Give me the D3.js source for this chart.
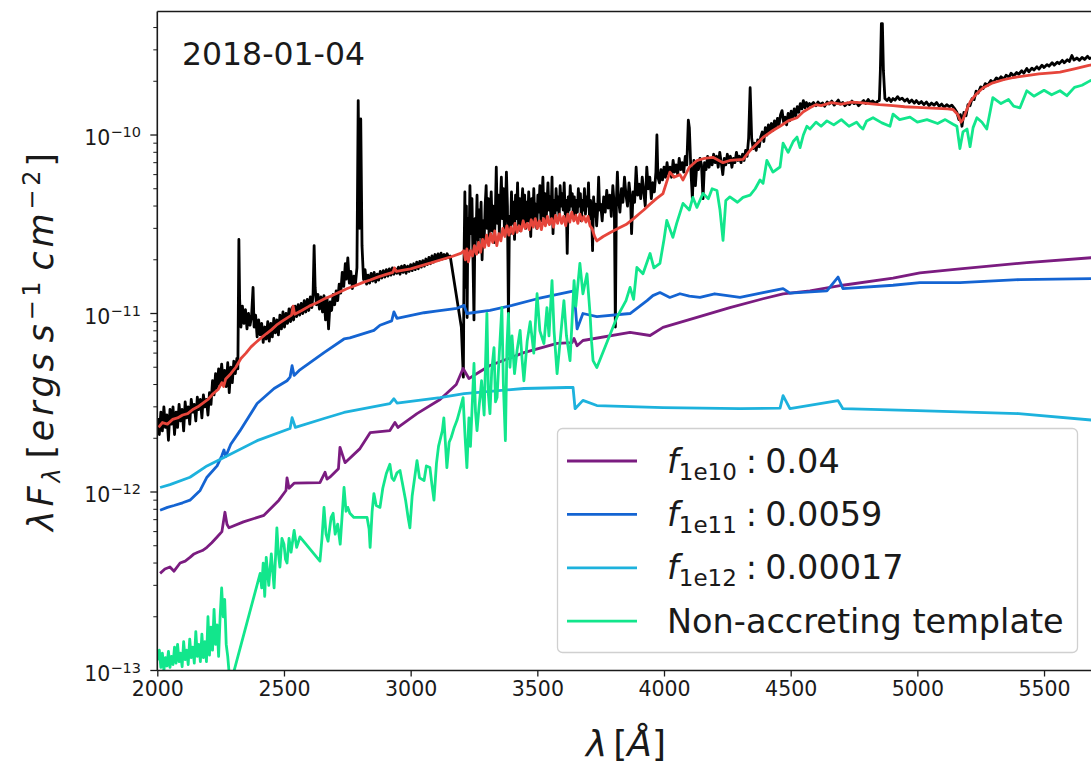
<!DOCTYPE html>
<html>
<head>
<meta charset="utf-8">
<script src="https://cdn.jsdelivr.net/npm/d3@7"></script>
<style>
  html, body { margin: 0; padding: 0; background: #fff; }
  svg { display: block; font-family: "DejaVu Sans", sans-serif; }
</style>
</head>
<body>
<svg id="chart" width="1091" height="765"></svg>
<script>
// flux values are in units of 1e-12 erg s^-1 cm^-2, wavelengths in Angstrom
const FLUX_UNIT = 1e-12;

const epochLabel = "2018-01-04";
const xTicks = [2000, 2500, 3000, 3500, 4000, 4500, 5000, 5500];
const yMajor = [-13, -12, -11, -10];

const legendNames = ["1e10", "1e11", "1e12", "Non-accreting template"];
const legendValues = ["0.04", "0.0059", "0.00017", null];

// observed spectrum (black)
const observed = [
  [2002,2.6],[2008,2.1],[2014,2.8],[2020,2.2],[2026,3.0],[2032,2.3],[2038,2.7],[2044,1.95],[2050,2.9],[2056,2.4],
  [2062,3.0],[2068,2.1],[2074,2.8],[2080,2.3],[2086,3.1],[2092,2.5],[2098,2.9],[2104,2.2],[2110,3.2],[2116,2.6],
  [2122,3.0],[2128,2.4],[2134,3.3],[2140,2.8],[2146,3.1],[2152,2.5],[2158,3.4],[2164,2.9],[2170,3.3],[2176,2.6],
  [2182,3.5],[2188,3.0],[2194,3.3],[2200,2.7],[2206,3.6],[2212,3.1],[2218,4.2],[2224,3.5],[2230,4.6],[2236,3.8],
  [2242,4.9],[2248,4.0],[2254,5.2],[2260,4.2],[2266,4.8],[2272,3.9],[2278,5.3],[2284,3.6],[2290,5.0],[2296,4.1],
  [2302,5.4],[2308,4.6],[2314,5.6],[2318,4.9],[2322,26],[2325,12],[2330,8.4],[2336,11],[2342,8.8],[2348,10.5],
  [2354,8.2],[2360,10],[2366,8.6],[2372,9.6],[2378,14],[2382,8.4],[2388,9.8],[2394,7.4],[2400,9.2],[2406,7.6],
  [2412,8.8],[2418,6.9],[2424,8.4],[2430,7.2],[2436,9.0],[2442,7.0],[2448,8.8],[2454,7.4],[2460,9.4],[2466,7.8],
  [2472,9.2],[2478,7.6],[2484,9.8],[2490,8.2],[2496,10.2],[2502,8.4],[2508,10.0],[2514,8.8],[2520,10.6],[2526,9.0],
  [2532,10.8],[2538,9.2],[2544,11.0],[2550,9.6],[2556,11.2],[2562,9.8],[2568,11.4],[2574,10.0],[2580,11.8],[2586,10.2],
  [2592,12.0],[2598,10.4],[2604,12.4],[2610,10.8],[2615,13],[2619,24],[2623,14],[2628,11.2],[2634,12.8],[2640,10.6],
  [2646,12.4],[2652,10.2],[2658,12.6],[2664,9.2],[2670,12.2],[2676,8.2],[2682,11.6],[2688,10.4],[2694,12.8],[2700,11.2],
  [2706,13.4],[2712,11.8],[2718,14.6],[2724,13.0],[2730,17],[2736,14.2],[2742,19],[2746,15.6],[2752,20.5],[2758,14.8],
  [2764,17.2],[2770,13.8],[2776,16.2],[2782,14.6],[2788,18],[2793,156],[2798,30],[2803,123],[2808,24],[2814,15.5],
  [2820,17.6],[2826,14.6],[2832,16.4],[2838,14.8],[2844,16.8],[2850,15.2],[2856,17.0],[2862,15.0],[2868,16.6],[2874,15.4],
  [2880,17.2],[2886,15.8],[2892,17.4],[2898,16.0],[2904,17.6],[2910,16.2],[2916,17.8],[2922,16.4],[2928,18.0],[2934,16.6],
  [2940,17.8],[2946,16.8],[2952,18.2],[2958,16.6],[2964,18.4],[2970,17.0],[2976,18.6],[2982,16.8],[2988,18.4],[2994,17.2],
  [3000,18.8],[3006,17.4],[3012,19.0],[3018,17.6],[3024,19.4],[3030,17.8],[3036,19.6],[3042,18.2],[3048,19.8],[3054,18.4],
  [3060,20.2],[3066,18.8],[3072,20.6],[3078,19.0],[3084,21.0],[3090,19.4],[3096,21.4],[3102,19.8],[3108,21.6],[3114,20.0],
  [3120,21.8],[3126,20.2],[3132,21.4],[3138,20.4],[3144,21.6],[3150,20.6],[3156,21.0],
  [3200,8.4],[3208,4.4],[3211,22],[3214,48],[3217,14],[3220,40],[3223,9.5],[3226,34],[3230,22],[3234,52],
  [3238,28],[3242,44],[3246,20],[3250,9.2],[3254,34],[3258,26],[3262,46],[3266,22],[3270,38],[3274,27],
  [3278,42],[3282,20],[3286,33],[3290,25],[3294,40],[3298,52],[3302,30],[3306,44],[3310,26],[3314,36],
  [3318,48],[3322,29],[3326,40],[3330,25],[3334,35],[3338,66],[3342,32],[3346,46],[3350,28],[3354,42],
  [3358,58],[3362,34],[3366,50],[3370,30],[3374,38],[3378,62],[3382,40],[3386,9.2],[3390,35],[3394,28],
  [3398,48],[3402,32],[3406,42],[3410,26],[3414,46],[3418,34],[3422,54],[3426,31],[3430,44],[3434,29],
  [3438,40],[3442,50],[3446,34],[3450,46],[3454,30],[3458,42],[3462,33],[3466,48],[3470,36],[3474,27],
  [3478,44],[3482,32],[3486,50],[3490,34],[3494,41],[3498,30],[3502,46],[3506,37],[3510,52],[3514,33],
  [3518,43],[3522,58],[3526,35],[3530,47],[3534,32],[3538,41],[3542,54],[3546,38],[3550,45],[3554,34],
  [3558,58],[3562,28],[3566,43],[3570,36],[3574,50],[3578,38],[3582,45],[3586,34],[3590,52],[3594,40],
  [3598,47],[3602,38],[3606,54],[3610,36],[3614,43],[3618,21.7],[3622,45],[3626,38],[3630,52],[3634,40],
  [3638,47],[3642,36],[3646,45],[3650,34],[3654,43],[3658,37],[3662,50],[3666,40],[3670,47],[3674,33],
  [3678,43],[3682,38],[3686,50],[3690,36],[3694,45],[3698,40],[3702,54],[3706,34],[3710,43],[3714,38],
  [3718,22.5],[3722,45],[3726,35],[3730,41],[3734,31],[3738,38],[3742,58],[3746,38],[3750,41],[3756,33],
  [3762,45],[3768,37],[3774,49],[3780,39],[3786,46],[3792,35],[3798,52],[3804,40],[3808,8.4],[3812,42],
  [3816,62],[3820,44],[3826,37],[3832,50],[3838,42],[3844,58],[3850,46],[3856,40],[3862,54],[3868,44],
  [3872,28],[3878,48],[3884,42],[3890,66],[3896,46],[3902,53],[3908,44],[3914,58],[3920,48],[3926,40],
  [3932,66],[3938,50],[3944,58],[3950,44],[3956,54],[3962,48],[3968,62],[3972,100],[3976,58],[3982,54],
  [3988,64],[3994,56],[4000,66],[4006,58],[4012,70],[4018,60],[4024,66],[4030,58],[4036,72],[4042,62],
  [4048,68],[4054,60],[4060,74],[4066,64],[4072,70],[4078,62],[4084,76],[4090,68],[4096,121],[4100,110],
  [4106,64],[4112,44],[4118,72],[4124,52],[4130,70],[4136,64],[4142,74],[4148,68],[4154,44],[4160,70],
  [4166,64],[4172,76],[4178,66],[4184,74],[4190,68],[4196,78],[4202,70],[4208,76],[4214,66],[4220,80],
  [4226,70],[4232,60],[4238,74],[4244,68],[4250,78],[4256,70],[4262,76],[4268,66],[4274,74],[4280,70],
  [4286,80],[4292,72],[4298,76],[4304,70],[4310,78],[4316,72],[4322,82],[4328,76],[4334,96],[4340,184],
  [4346,96],[4352,84],[4358,90],[4364,82],[4370,94],[4376,86],[4382,98],[4388,104],[4394,92],[4400,110],
  [4406,100],[4412,114],[4418,104],[4424,116],[4430,106],[4436,120],[4442,110],[4448,124],[4454,114],[4460,130],
  [4466,137],[4472,118],[4478,126],[4484,114],[4490,132],[4496,120],[4502,136],[4508,124],[4514,140],[4520,128],
  [4526,144],[4532,134],[4538,150],[4544,140],[4550,156],[4556,142],[4562,152],[4568,144],[4574,150],[4580,147],
  [4590,152],[4600,146],[4608,153],[4616,148],[4626,151],[4634,145],[4644,153],[4652,149],[4662,155],[4672,147],
  [4680,152],[4688,157],[4696,149],[4706,152],[4714,146],[4724,151],[4732,148],[4742,155],[4750,150],[4760,152],
  [4768,146],[4778,151],[4788,156],[4796,150],[4806,158],[4814,152],[4824,155],[4834,150],[4842,154],[4850,156],
  [4854,230],[4858,421],[4862,421],[4866,230],[4872,160],[4880,156],[4888,161],[4896,154],[4904,160],[4912,157],
  [4922,164],[4930,158],[4940,161],[4950,155],[4960,159],[4968,152],[4978,157],[4988,151],[4996,156],[5006,150],
  [5016,154],[5026,148],[5036,153],[5046,146],[5056,151],[5066,147],[5076,152],[5086,145],[5096,149],[5106,143],
  [5116,148],[5126,144],[5136,147],[5146,141],[5156,134],[5164,122],[5170,130],[5176,112],[5184,134],[5192,128],
  [5200,148],[5208,146],[5216,160],[5224,158],[5232,176],[5240,172],[5250,186],[5260,182],[5268,194],[5278,190],
  [5290,202],[5300,197],[5312,209],[5322,204],[5330,212],[5342,206],[5350,216],[5362,211],[5370,222],[5380,214],
  [5392,224],[5400,219],[5412,229],[5420,222],[5432,236],[5440,226],[5452,237],[5460,231],[5472,241],[5480,234],
  [5492,246],[5500,239],[5512,248],[5520,243],[5532,254],[5540,246],[5552,256],[5560,251],[5572,262],[5580,254],
  [5592,264],[5600,258],[5610,279],[5618,263],[5630,270],[5640,262],[5650,272],[5660,265],[5672,276],[5680,268],
  [5690,272]
];

// best-fit total model (red)
const totalModel = [
  [2005,2.3],[2020,2.45],[2040,2.4],[2060,2.55],[2080,2.6],[2100,2.7],[2120,2.75],[2140,2.9],[2160,3.0],[2180,3.15],
  [2200,3.3],[2220,3.55],[2240,3.75],[2255,4.1],[2262,3.9],[2270,4.3],[2290,4.6],[2310,5.0],[2330,5.6],[2350,6.0],
  [2370,6.5],[2390,6.9],[2410,7.3],[2430,7.7],[2450,8.1],[2470,8.6],[2490,9.0],[2510,9.4],[2530,9.8],[2536,11],
  [2542,9.9],[2570,10.4],[2600,11],[2630,11.5],[2660,12.1],[2690,12.6],[2720,13.2],[2750,13.8],[2780,14.3],[2810,14.9],
  [2840,15.4],[2870,16.0],[2900,16.5],[2930,17.0],[2936,18.0],[2944,17.2],[3000,17.8],[3040,18.5],[3080,19.2],[3120,20.0],
  [3160,20.8],[3200,21.8],[3210,22.5],[3216,20],[3222,23],[3228,19.5],[3236,22.5],[3244,21],[3252,24],[3260,21.5],
  [3268,25],[3276,22],[3284,26],[3292,23.5],[3300,27.5],[3308,24],[3316,28],[3324,25],[3332,29],[3340,24],
  [3348,28],[3356,25.5],[3364,30],[3372,27],[3380,31],[3388,27.5],[3396,30.5],[3404,28],[3412,32],[3420,28.5],
  [3428,31],[3436,29],[3444,33],[3452,30],[3460,32],[3468,29.5],[3476,33.5],[3484,30.5],[3492,34],[3500,30],
  [3508,33],[3516,29.5],[3524,34],[3532,31],[3540,35],[3548,31.5],[3556,34],[3564,30.5],[3572,35.5],[3580,32],
  [3588,36],[3596,32],[3604,35],[3612,31],[3620,36],[3628,32.5],[3636,37],[3644,33],[3652,35.5],[3660,32],
  [3668,36],[3676,33],[3684,35],[3692,32.5],[3700,35],[3708,31],[3716,30],[3726,27],[3735,25.5],[3760,27],
  [3790,28.5],[3820,30],[3850,31.5],[3880,34],[3900,36],[3920,38],[3945,41],[3970,44],[3996,47],[4023,62],
  [4040,58],[4063,60],[4075,56],[4100,66],[4130,72],[4160,74],[4193,75],[4233,70],[4260,72],[4312,73],
  [4340,82],[4391,97],[4430,106],[4458,112],[4490,120],[4525,125],[4550,135],[4576,142],[4600,148],[4620,146],
  [4660,152],[4700,149],[4740,153],[4773,152],[4810,150],[4850,148],[4904,146],[4950,144],[5000,143],[5038,142],
  [5080,141],[5120,140],[5141,139],[5160,130],[5172,118],[5180,122],[5196,140],[5210,155],[5235,171],[5260,184],
  [5298,196],[5340,204],[5380,210],[5432,215],[5480,220],[5530,223],[5563,225],[5620,235],[5681,246],[5700,250]
];

// slab model f_1e10 (purple)
const slab1e10 = [
  [2011,0.35],[2030,0.37],[2050,0.38],[2066,0.36],[2090,0.40],[2110,0.41],[2129,0.43],[2145,0.45],[2160,0.46],[2178,0.47],
  [2196,0.49],[2215,0.52],[2236,0.56],[2255,0.60],[2267,0.77],[2275,0.66],[2283,0.63],[2340,0.68],[2421,0.74],[2480,0.90],
  [2508,1.02],[2512,1.20],[2520,1.05],[2540,1.12],[2642,1.13],[2662,1.29],[2670,1.18],[2681,1.21],[2715,1.35],[2721,1.78],
  [2741,1.46],[2800,1.75],[2840,2.15],[2918,2.21],[2938,2.45],[2950,2.30],[3025,2.75],[3116,3.30],[3180,4.0],[3207,4.92],
  [3230,4.32],[3260,4.6],[3313,5.11],[3447,6.04],[3578,6.8],[3637,6.87],[3645,7.25],[3657,6.6],[3680,7.06],[3866,7.83],
  [3945,7.53],[3996,8.36],[4130,9.51],[4260,10.8],[4391,12.1],[4470,12.9],[4576,13.4],[4706,14.4],[4904,15.8],[5010,16.9],
  [5168,17.8],[5432,19.3],[5700,20.6]
];

// slab model f_1e11 (blue)
const slab1e11 = [
  [2011,0.79],[2040,0.82],[2066,0.84],[2100,0.87],[2129,0.90],[2169,1.02],[2196,1.21],[2236,1.40],[2255,1.60],[2263,1.72],
  [2270,1.58],[2290,1.85],[2326,2.20],[2394,3.13],[2461,3.80],[2512,4.20],[2524,4.4],[2532,5.1],[2540,4.5],[2560,4.8],
  [2658,6.04],[2737,7.2],[2760,7.3],[2855,8.04],[2879,8.6],[2925,9.1],[2934,10.2],[2946,9.4],[3053,10.1],[3100,10.3],
  [3183,10.7],[3211,11.1],[3222,10.0],[3313,10.4],[3400,11.1],[3500,12.1],[3645,13.4],[3657,8.2],[3680,10.0],[3735,9.6],
  [3866,10.0],[3933,11.8],[3956,12.6],[3984,13.1],[4023,12.3],[4063,12.9],[4100,12.5],[4142,12.3],[4200,12.9],[4300,12.3],
  [4391,13.1],[4470,13.8],[4497,13.0],[4643,13.4],[4687,16.0],[4706,13.8],[4904,14.4],[5010,14.9],[5168,14.9],[5405,15.5],
  [5700,15.7]
];

// slab model f_1e12 (cyan)
const slab1e12 = [
  [2011,1.06],[2050,1.10],[2129,1.21],[2196,1.40],[2263,1.56],[2394,1.94],[2524,2.27],[2532,2.61],[2545,2.30],[2658,2.58],
  [2737,2.79],[2918,3.13],[2934,3.33],[2946,3.15],[3116,3.38],[3211,3.56],[3447,3.80],[3617,3.85],[3641,3.85],[3649,2.93],
  [3680,3.26],[3735,3.05],[3996,2.97],[4300,2.93],[4458,2.95],[4470,3.47],[4497,2.93],[4687,3.25],[4706,2.93],[5000,2.86],
  [5400,2.75],[5700,2.52]
];

// non-accreting photospheric template (green)
const template = [
  [2000,0.114],[2008,0.13],[2014,0.104],[2020,0.125],[2026,0.10],[2032,0.118],[2038,0.106],[2044,0.128],[2050,0.104],[2056,0.12],
  [2062,0.108],[2068,0.135],[2074,0.11],[2080,0.14],[2086,0.112],[2092,0.125],[2098,0.105],[2104,0.145],[2110,0.115],[2116,0.13],
  [2122,0.108],[2128,0.15],[2134,0.118],[2140,0.135],[2146,0.11],[2152,0.165],[2158,0.12],[2164,0.14],[2170,0.112],[2176,0.16],
  [2182,0.118],[2188,0.145],[2194,0.112],[2200,0.2],[2206,0.122],[2212,0.175],[2218,0.13],[2224,0.22],[2230,0.14],[2236,0.18],
  [2242,0.12],[2248,0.2],[2254,0.29],[2260,0.2],[2266,0.25],[2272,0.14],[2278,0.12],[2284,0.095],[2290,0.085],
  [2406,0.35],[2412,0.29],[2418,0.40],[2424,0.26],[2430,0.43],[2440,0.30],[2450,0.45],[2461,0.29],[2472,0.63],[2478,0.45],
  [2484,0.38],[2492,0.55],[2500,0.51],[2506,0.42],[2512,0.40],[2520,0.55],[2528,0.46],[2540,0.61],[2550,0.49],[2563,0.56],
  [2642,0.41],[2650,0.55],[2658,0.82],[2666,0.58],[2674,0.53],[2686,0.72],[2694,0.76],[2702,0.58],[2712,0.66],[2722,0.51],
  [2737,1.06],[2745,0.78],[2752,0.82],[2760,0.76],[2776,0.72],[2828,0.72],[2836,0.62],[2840,0.49],[2848,0.78],[2855,0.98],
  [2864,0.84],[2879,0.82],[2890,1.05],[2904,1.27],[2918,1.43],[2926,1.2],[2934,1.16],[2946,1.28],[2958,1.32],[2966,1.15],
  [2980,0.9],[2990,0.72],[2997,0.63],[3006,0.95],[3025,1.5],[3035,1.2],[3053,1.16],[3062,1.4],[3076,1.37],[3084,1.1],
  [3092,0.9],[3102,1.45],[3110,1.8],[3125,2.2],[3131,2.6],[3137,1.9],[3143,1.37],[3152,1.9],[3160,2.02],[3172,2.3],
  [3183,2.52],[3195,2.9],[3207,3.38],[3215,2.02],[3222,1.37],[3230,2.6],[3236,1.8],[3250,5.25],[3256,2.8],[3262,2.21],
  [3270,3.0],[3280,4.2],[3290,2.7],[3301,10],[3307,3.5],[3313,2.75],[3320,4.8],[3329,6.44],[3335,3.2],[3341,3.38],
  [3350,6.0],[3360,10.8],[3366,4.0],[3374,1.94],[3380,6.5],[3386,10],[3392,5.0],[3400,7.5],[3410,4.61],[3420,6.2],
  [3432,8.04],[3440,5.5],[3447,4.2],[3460,7.0],[3472,9.0],[3486,6.0],[3499,12.9],[3510,8.0],[3526,6.79],[3538,10.8],
  [3546,7.5],[3558,15.3],[3566,8.0],[3578,4.61],[3590,7.0],[3605,11.8],[3615,7.5],[3629,5.45],[3637,9.0],[3645,15.3],
  [3652,11],[3668,19.1],[3680,12.9],[3696,16.7],[3708,10],[3714,7.0],[3720,5.45],[3735,4.98],[3814,9.51],[3850,11.8],
  [3866,14],[3880,12],[3893,18.1],[3917,16.7],[3945,21.7],[3960,18],[3984,19.1],[4000,26],[4011,33.2],[4035,26.7],
  [4050,32],[4075,41.4],[4100,38],[4114,44.7],[4130,39.3],[4154,47.1],[4175,44],[4190,50],[4209,48.9],[4221,38],
  [4233,25.7],[4244,43],[4260,45],[4290,42],[4312,44.7],[4340,46],[4360,50],[4379,56],[4391,53.6],[4406,72],
  [4430,62],[4458,66.2],[4470,90],[4490,80],[4510,92],[4525,97.4],[4537,85],[4550,100],[4564,112],[4576,108],
  [4600,118],[4620,112],[4643,120],[4670,114],[4700,122],[4730,112],[4760,118],[4773,112],[4785,108],[4800,120],
  [4825,125],[4860,117],[4892,112],[4904,131],[4930,122],[4971,126],[5000,118],[5038,122],[5080,116],[5110,122],
  [5141,115],[5156,112],[5168,84],[5180,104],[5196,108],[5208,86],[5220,110],[5235,125],[5255,118],[5274,108],
  [5298,162],[5330,150],[5360,158],[5380,145],[5405,142],[5432,177],[5460,165],[5500,178],[5530,168],[5563,177],
  [5590,166],[5620,185],[5650,190],[5681,201],[5700,205]
];

const series = [
  { data: observed, color: "#000000" },
  { data: totalModel, color: "#e6453b" },
  { data: slab1e10, color: "#7b1c80" },
  { data: slab1e11, color: "#1464d2" },
  { data: slab1e12, color: "#1db2dd" },
  { data: template, color: "#12e68c" }
];
const legendColors = ["#7b1c80", "#1464d2", "#1db2dd", "#12e68c"];

const svg = d3.select("#chart");
const W = 1091, H = 765;
const plot = { left: 157.3, top: 11.5, bottom: 670.5, right: 1094.7 };

svg.append("rect").attr("width", W).attr("height", H).attr("fill", "#fff");

const x = d3.scaleLinear().domain([2000, 5700]).range([plot.left, plot.right]);
const y = d3.scaleLog().domain([1e-13, 4.92e-10]).range([plot.bottom, plot.top]);

svg.append("defs").append("clipPath").attr("id", "clip")
  .append("rect")
  .attr("x", plot.left).attr("y", plot.top)
  .attr("width", plot.right - plot.left).attr("height", plot.bottom - plot.top);

const line = d3.line()
  .x(d => x(d[0]))
  .y(d => y(d[1] * FLUX_UNIT));

const curves = svg.append("g").attr("clip-path", "url(#clip)");
series.forEach(s => {
  curves.append("path")
    .attr("d", line(s.data))
    .attr("fill", "none")
    .attr("stroke", s.color)
    .attr("stroke-width", 2.8)
    .attr("stroke-linejoin", "round");
});

// x axis
const xAxis = svg.append("g")
  .attr("transform", "translate(0," + plot.bottom + ")")
  .call(d3.axisBottom(x).tickValues(xTicks).tickSize(6).tickPadding(5).tickFormat(d3.format("d")));
xAxis.select(".domain").remove();
xAxis.selectAll(".tick line").attr("stroke", "#1a1a1a").attr("stroke-width", 1.3);
xAxis.selectAll(".tick text")
  .attr("fill", "#1a1a1a")
  .style("font-family", "DejaVu Sans")
  .style("font-size", "20.5px");

// y axis: minor ticks
const minor = y.ticks().filter(v => {
  const m = v / Math.pow(10, Math.floor(Math.log10(v) + 1e-9));
  return Math.round(m) !== 1;
});
svg.append("g").selectAll("line").data(minor).join("line")
  .attr("x1", plot.left - 4).attr("x2", plot.left)
  .attr("y1", d => y(d)).attr("y2", d => y(d))
  .attr("stroke", "#1a1a1a").attr("stroke-width", 1);

// y axis: major ticks with superscript labels
const yAx = svg.append("g");
yMajor.forEach(p => {
  const yy = y(Math.pow(10, p));
  yAx.append("line")
    .attr("x1", plot.left - 7).attr("x2", plot.left)
    .attr("y1", yy).attr("y2", yy)
    .attr("stroke", "#1a1a1a").attr("stroke-width", 1.3);
  const t = yAx.append("text")
    .attr("x", 141).attr("y", yy + 10)
    .attr("text-anchor", "end")
    .attr("fill", "#1a1a1a")
    .style("font-size", "20.5px");
  t.append("tspan").text("10");
  t.append("tspan").attr("dy", -8).style("font-size", "14.5px").text("\u2212" + Math.abs(p));
});

// spines
const spine = svg.append("g").attr("stroke", "#1a1a1a").attr("stroke-width", 1.6);
spine.append("line").attr("x1", plot.left).attr("x2", plot.left).attr("y1", plot.top).attr("y2", plot.bottom);
spine.append("line").attr("x1", plot.left).attr("x2", W + 5).attr("y1", plot.top).attr("y2", plot.top);
spine.append("line").attr("x1", plot.left).attr("x2", W + 5).attr("y1", plot.bottom).attr("y2", plot.bottom);

// epoch label
svg.append("text")
  .attr("x", 182).attr("y", 65)
  .attr("fill", "#1a1a1a")
  .style("font-size", "31.5px")
  .text(epochLabel);

// axis labels
const xl = svg.append("text")
  .attr("x", 626).attr("y", 756)
  .attr("text-anchor", "middle")
  .attr("fill", "#1a1a1a")
  .style("font-size", "36px");
xl.append("tspan").style("font-style", "italic").text("\u03bb");
xl.append("tspan").attr("dx", 6).text("[");
xl.append("tspan").style("font-style", "italic").text("\u00c5");
xl.append("tspan").text("]");

const yl = svg.append("text")
  .attr("transform", "translate(53,342) rotate(-90)")
  .attr("text-anchor", "middle")
  .attr("fill", "#1a1a1a")
  .attr("textLength", 378)
  .attr("lengthAdjust", "spacing")
  .style("font-size", "35px");
yl.append("tspan").style("font-style", "italic").text("\u03bbF");
yl.append("tspan").attr("dy", 7).style("font-size", "24px").style("font-style", "italic").text("\u03bb");
yl.append("tspan").attr("dy", -7).attr("dx", 6).text("[");
yl.append("tspan").style("font-style", "italic").text("ergs");
yl.append("tspan").attr("dx", 7).style("font-style", "italic").text("s");
yl.append("tspan").attr("dy", -13).style("font-size", "24px").text("\u22121");
yl.append("tspan").attr("dy", 13).attr("dx", 7).style("font-style", "italic").text("cm");
yl.append("tspan").attr("dy", -13).style("font-size", "24px").text("\u22122");
yl.append("tspan").attr("dy", 13).text("]");

// legend
const lg = svg.append("g");
lg.append("rect")
  .attr("x", 557.5).attr("y", 428.5).attr("width", 520).attr("height", 224)
  .attr("rx", 5)
  .attr("fill", "#fff").attr("fill-opacity", 0.8)
  .attr("stroke", "#d0d0d0").attr("stroke-width", 1.3);
legendNames.forEach((name, i) => {
  const cy = 461 + i * 53.4;
  lg.append("line")
    .attr("x1", 567).attr("x2", 637).attr("y1", cy).attr("y2", cy)
    .attr("stroke", legendColors[i]).attr("stroke-width", 2.8);
  const t = lg.append("text")
    .attr("x", 667).attr("y", cy + 11.5)
    .attr("fill", "#1a1a1a")
    .style("font-size", "33.5px");
  if (legendValues[i] === null) {
    t.text(name);
  } else {
    t.append("tspan").style("font-style", "italic").text("f");
    t.append("tspan").attr("dy", 7).style("font-size", "23px").text(name);
    t.append("tspan").attr("dy", -7).attr("dx", 9).text(":");
    t.append("tspan").attr("dx", 8).text(legendValues[i]);
  }
});
</script>
</body>
</html>
